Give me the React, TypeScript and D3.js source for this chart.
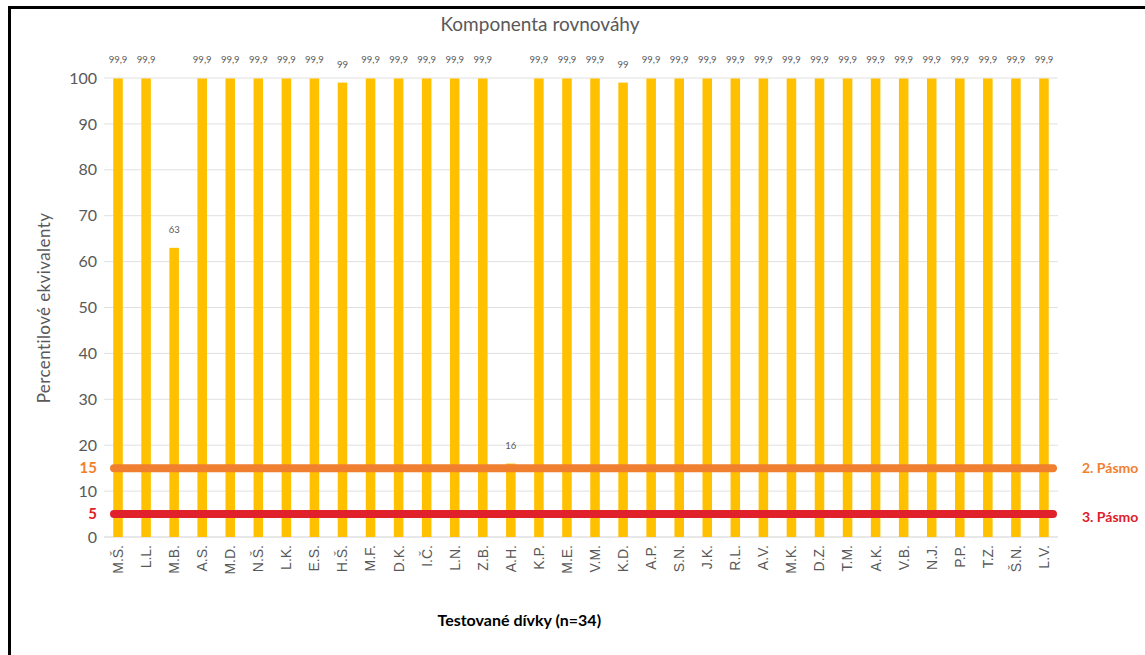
import React from "react";
import * as d3 from "d3";

// Girls tested (initials) and their balance-component percentile equivalents
const girls = [
  "M.Š.", "L.L.", "M.B.", "A.S.", "M.D.", "N.Š.", "L.K.", "E.S.", "H.Š.", "M.F.",
  "D.K.", "I.Č.", "L.N.", "Z.B.", "A.H.", "K.P.", "M.E.", "V.M.", "K.D.", "A.P.",
  "S.N.", "J.K.", "R.L.", "A.V.", "M.K.", "D.Z.", "T.M.", "A.K.", "V.B.", "N.J.",
  "P.P.", "T.Z.", "Š.N.", "L.V.",
];
const percentiles = [
  99.9, 99.9, 63, 99.9, 99.9, 99.9, 99.9, 99.9, 99, 99.9,
  99.9, 99.9, 99.9, 99.9, 16, 99.9, 99.9, 99.9, 99, 99.9,
  99.9, 99.9, 99.9, 99.9, 99.9, 99.9, 99.9, 99.9, 99.9, 99.9,
  99.9, 99.9, 99.9, 99.9,
];
const yTicks = [0, 10, 20, 30, 40, 50, 60, 70, 80, 90, 100];
// Threshold bands drawn as horizontal reference lines
const bandValues = [15, 5];
const bandNames = ["2. Pásmo", "3. Pásmo"];
const bandColors = ["#F08030", "#E0202A"];

const W = 1145;
const H = 655;
const plot = { left: 104, right: 1058, top: 78, bottom: 537 };

const fmt = (v: number) => String(v).replace(".", ",");

export default function App() {
  const x = d3
    .scaleBand<string>()
    .domain(girls)
    .range([plot.left, plot.right])
    .paddingInner(0.66)
    .paddingOuter(0.33);
  const y = d3.scaleLinear().domain([0, 100]).range([plot.bottom, plot.top]);
  const step = x.step();

  const tickFont = "'Liberation Sans', Arial, sans-serif";
  const labelFont = "Lato, 'Open Sans', sans-serif";

  return (
    <svg
      width={W}
      height={H}
      style={{ position: "absolute", left: 0, top: 0, background: "#fff" }}
    >
      {/* frame */}
      <path d={`M9.5,${H + 5} V7.5 H${W + 5}`} fill="none" stroke="#000" strokeWidth={3} />

      <text
        x={540}
        y={31}
        textAnchor="middle"
        fontFamily={labelFont}
        fontSize={19}
        fill="#595959"
      >
        Komponenta rovnováhy
      </text>

      {/* gridlines */}
      {yTicks.map((t) => (
        <line
          key={t}
          x1={plot.left}
          x2={plot.right}
          y1={y(t)}
          y2={y(t)}
          stroke={t === 0 ? "#d0d0d0" : "#e0e0e0"}
          strokeWidth={1}
        />
      ))}

      {/* y tick labels */}
      {yTicks.map((t) => (
        <text
          key={t}
          x={97}
          y={y(t)}
          dy="0.35em"
          textAnchor="end"
          fontFamily={labelFont}
          fontSize={16}
          fill="#595959"
        >
          {t}
        </text>
      ))}

      <text
        transform={`translate(50,308) rotate(-90)`}
        textAnchor="middle"
        fontFamily={labelFont}
        fontSize={17}
        letterSpacing={0.4}
        fill="#595959"
      >
        Percentilové ekvivalenty
      </text>

      {/* bars */}
      {girls.map((g, i) => (
        <rect
          key={g + i}
          x={x(g)}
          y={y(percentiles[i])}
          width={x.bandwidth()}
          height={y(0) - y(percentiles[i])}
          fill="#FFC000"
        />
      ))}

      {/* value labels */}
      {girls.map((g, i) => (
        <text
          key={"v" + i}
          x={(x(g) ?? 0) + x.bandwidth() / 2}
          y={y(percentiles[i]) - 15}
          textAnchor="middle"
          fontFamily={labelFont}
          fontSize={9.5}
          fill="#595959"
        >
          {fmt(percentiles[i])}
        </text>
      ))}

      {/* band reference lines */}
      {bandValues.map((v, i) => (
        <g key={"b" + i}>
          <line
            x1={plot.left + 10}
            x2={plot.right - 5}
            y1={y(v)}
            y2={y(v)}
            stroke={bandColors[i]}
            strokeWidth={8}
            strokeLinecap="round"
          />
          <text
            x={97}
            y={y(v)}
            dy="0.35em"
            textAnchor="end"
            fontFamily={labelFont}
            fontWeight={700}
            fontSize={15}
            fill={bandColors[i]}
          >
            {v}
          </text>
          <text
            x={1082}
            y={y(v) + (i === 0 ? 0 : 3)}
            dy="0.35em"
            fontFamily={labelFont}
            fontWeight={700}
            fontSize={14}
            fill={bandColors[i]}
          >
            {bandNames[i]}
          </text>
        </g>
      ))}

      {/* x tick labels */}
      {girls.map((g) => (
        <text
          key={"t" + g}
          transform={`translate(${(x(g) ?? 0) + x.bandwidth() / 2},${plot.bottom + 8}) rotate(-90)`}
          textAnchor="end"
          dy="0.35em"
          fontFamily={tickFont}
          fontSize={14}
          fill="#595959"
        >
          {g}
        </text>
      ))}

      <text
        x={plot.left + step * 14.8}
        y={626}
        textAnchor="middle"
        fontFamily={labelFont}
        fontWeight={700}
        fontSize={16}
        fill="#000"
      >
        Testované dívky (n=34)
      </text>
    </svg>
  );
}
